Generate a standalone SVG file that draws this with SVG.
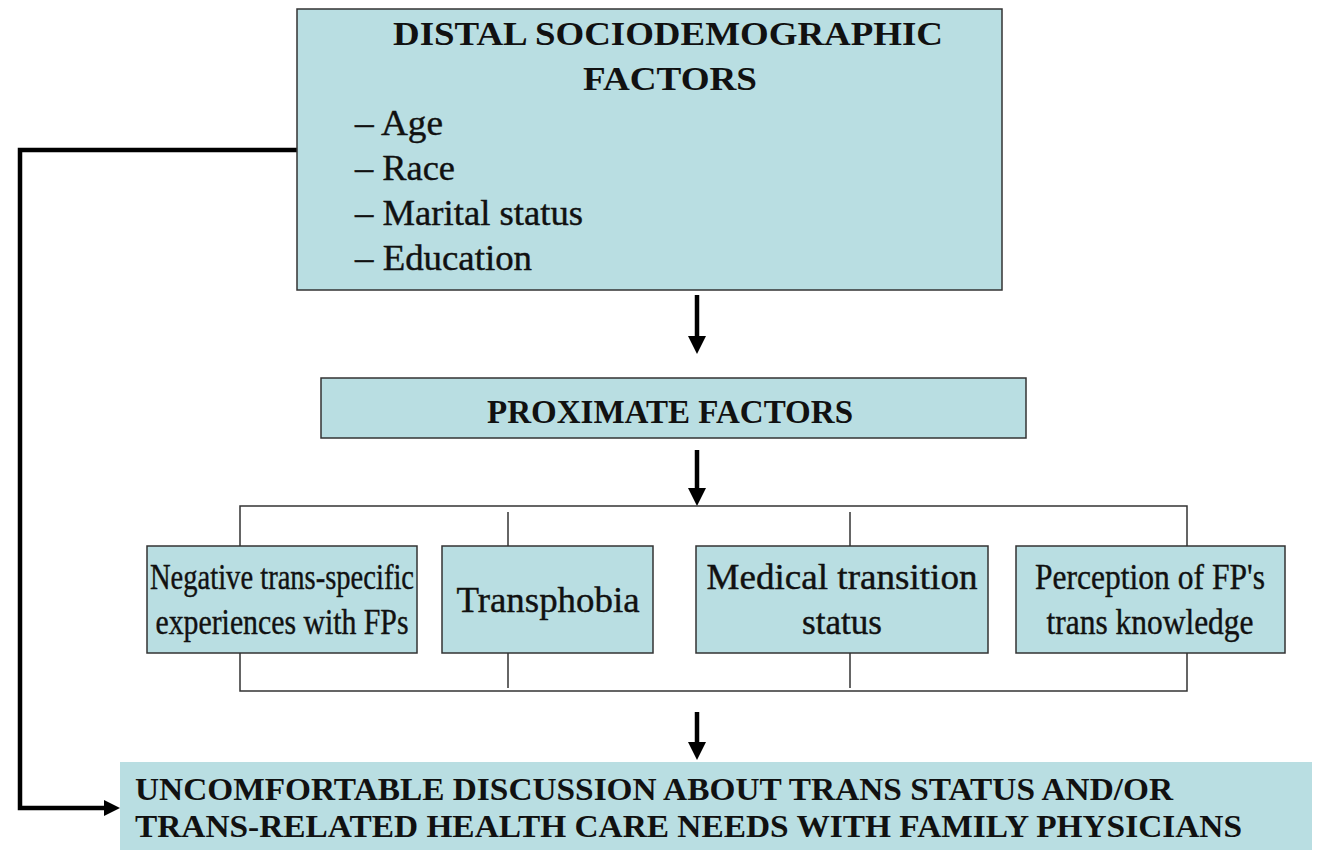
<svg xmlns="http://www.w3.org/2000/svg" width="1340" height="850" viewBox="0 0 1340 850">
  <style>
    .box { fill: #B9DEE2; stroke: #333; stroke-width: 1.5; }
    .boxnb { fill: #B9DEE2; stroke: none; }
    .t { font-family: "Liberation Serif", "Times New Roman", serif; fill: #111; }
    .r { stroke: #111; stroke-width: 0.4; }
    .b { font-weight: bold; }
    .thick { stroke: #000; stroke-width: 4.5; fill: none; }
    .thin { stroke: #333; stroke-width: 1.5; fill: none; }
  </style>
  <defs>
    <marker id="ah" markerWidth="18" markerHeight="18" refX="0" refY="9" orient="auto" markerUnits="userSpaceOnUse">
      <path d="M0,0 L18,9 L0,18 z" fill="#000"/>
    </marker>
    <marker id="ahs" markerWidth="16" markerHeight="16" refX="0" refY="8" orient="auto" markerUnits="userSpaceOnUse">
      <path d="M0,0 L16,8 L0,16 z" fill="#000"/>
    </marker>
  </defs>
  <rect width="1340" height="850" fill="#fff"/>

  <g id="connectors">
    <path class="thick" d="M297,150 H20 V808 H104" marker-end="url(#ahs)"/>
    <line class="thick" x1="697" y1="295" x2="697" y2="336" marker-end="url(#ah)"/>
    <line class="thick" x1="697" y1="450" x2="697" y2="488" marker-end="url(#ah)"/>
    <line class="thick" x1="697" y1="712" x2="697" y2="742" marker-end="url(#ah)"/>
    <path class="thin" d="M240,546 V506 H1187 V546"/>
    <line class="thin" x1="508" y1="512" x2="508" y2="546"/>
    <line class="thin" x1="850" y1="512" x2="850" y2="546"/>
    <path class="thin" d="M240,653 V691 H1187 V653"/>
    <line class="thin" x1="508" y1="653" x2="508" y2="688"/>
    <line class="thin" x1="850" y1="653" x2="850" y2="688"/>
  </g>

  <g id="distal">
    <rect class="box" x="297" y="9" width="705" height="281"/>
    <text class="t b" x="668" y="45" font-size="34" text-anchor="middle" textLength="550" lengthAdjust="spacingAndGlyphs">DISTAL SOCIODEMOGRAPHIC</text>
    <text class="t b" x="670" y="90" font-size="34" text-anchor="middle" textLength="174" lengthAdjust="spacingAndGlyphs">FACTORS</text>
    <text class="t r" x="355" y="135" font-size="35" textLength="88" lengthAdjust="spacingAndGlyphs">– Age</text>
    <text class="t r" x="355" y="180" font-size="35" textLength="100" lengthAdjust="spacingAndGlyphs">– Race</text>
    <text class="t r" x="355" y="225" font-size="35" textLength="228" lengthAdjust="spacingAndGlyphs">– Marital status</text>
    <text class="t r" x="355" y="270" font-size="35" textLength="177" lengthAdjust="spacingAndGlyphs">– Education</text>
  </g>

  <g id="proximate">
    <rect class="box" x="321" y="378" width="705" height="60"/>
    <text class="t b" x="670" y="423" font-size="33" text-anchor="middle" textLength="366" lengthAdjust="spacingAndGlyphs">PROXIMATE FACTORS</text>
  </g>

  <g id="negative">
    <rect class="box" x="147" y="546" width="270" height="107"/>
    <text class="t r" x="282" y="589" font-size="36" text-anchor="middle" textLength="264" lengthAdjust="spacingAndGlyphs">Negative trans-specific</text>
    <text class="t r" x="282" y="634" font-size="36" text-anchor="middle" textLength="253" lengthAdjust="spacingAndGlyphs">experiences with FPs</text>
  </g>

  <g id="transphobia">
    <rect class="box" x="442" y="546" width="211" height="107"/>
    <text class="t r" x="548" y="612" font-size="36" text-anchor="middle" textLength="183" lengthAdjust="spacingAndGlyphs">Transphobia</text>
  </g>

  <g id="medical">
    <rect class="box" x="696" y="546" width="292" height="107"/>
    <text class="t r" x="842" y="589" font-size="36" text-anchor="middle" textLength="271" lengthAdjust="spacingAndGlyphs">Medical transition</text>
    <text class="t r" x="842" y="634" font-size="36" text-anchor="middle" textLength="80" lengthAdjust="spacingAndGlyphs">status</text>
  </g>

  <g id="perception">
    <rect class="box" x="1016" y="546" width="269" height="107"/>
    <text class="t r" x="1150" y="589" font-size="36" text-anchor="middle" textLength="230" lengthAdjust="spacingAndGlyphs">Perception of FP's</text>
    <text class="t r" x="1150" y="634" font-size="36" text-anchor="middle" textLength="207" lengthAdjust="spacingAndGlyphs">trans knowledge</text>
  </g>

  <g id="outcome">
    <rect class="boxnb" x="120" y="762" width="1192" height="90"/>
    <text class="t b" x="135" y="800" font-size="32" textLength="1038" lengthAdjust="spacingAndGlyphs">UNCOMFORTABLE DISCUSSION ABOUT TRANS STATUS AND/OR</text>
    <text class="t b" x="135" y="837" font-size="32" textLength="1107" lengthAdjust="spacingAndGlyphs">TRANS-RELATED HEALTH CARE NEEDS WITH FAMILY PHYSICIANS</text>
  </g>
</svg>
